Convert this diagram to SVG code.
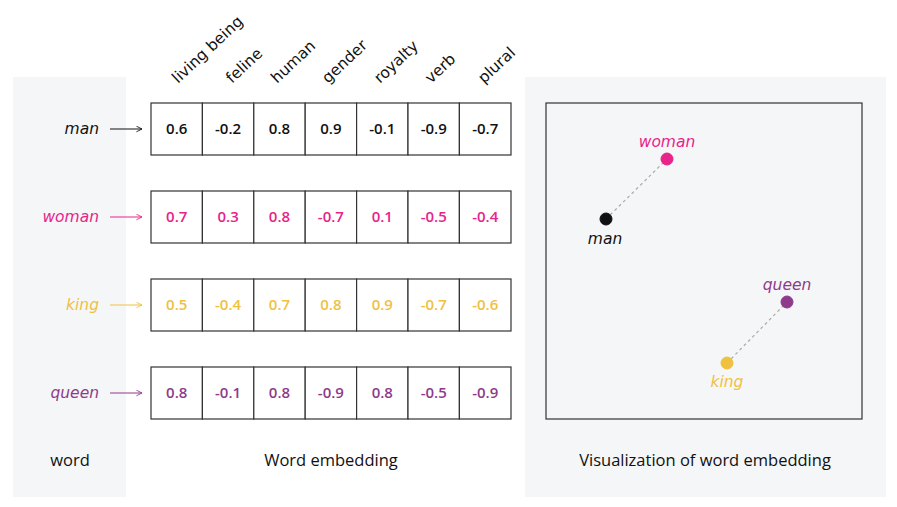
<svg xmlns="http://www.w3.org/2000/svg" width="897" height="507" viewBox="0 0 897 507">
<style>
.panel{fill:#f5f6f8}
.cell{fill:#fff;stroke:#333;stroke-width:1.2}
.num{font-family:"Open Sans",sans-serif;font-size:15px;font-weight:600;text-anchor:middle}
.word{font-family:"DejaVu Sans",sans-serif;font-size:15.5px;font-weight:400;font-style:oblique}
.hdr{font-family:"DejaVu Sans",sans-serif;font-size:15.5px;font-weight:400}
.cap{font-family:"Open Sans",sans-serif;font-size:16.5px;font-weight:500;text-anchor:middle;fill:#111}
.dash{stroke:#aaa;stroke-width:1.2;stroke-dasharray:3 3}
.man{fill:#111;stroke:#111}
.woman{fill:#e8238a;stroke:#e8238a}
.king{fill:#efc13f;stroke:#efc13f}
.queen{fill:#8e3b8b;stroke:#8e3b8b}
</style>
<defs>
<marker id="ah" viewBox="0 0 10 10" refX="9" refY="5" markerWidth="7" markerHeight="7" orient="auto" markerUnits="userSpaceOnUse"><path d="M1,1 L9,5 L1,9" fill="none" stroke="context-stroke" stroke-width="1.2"/></marker>
</defs>
<rect width="897" height="507" fill="#fff"/>
<rect class="panel" x="13" y="77" width="113" height="420"/>
<rect class="panel" x="525" y="77" width="361" height="420"/>
<g id="headers" class="hdr" fill="#111">
<text transform="translate(178,84) rotate(-43)">living being</text>
<text transform="translate(232,84) rotate(-43)">feline</text>
<text transform="translate(277,84) rotate(-43)">human</text>
<text transform="translate(328,84) rotate(-43)">gender</text>
<text transform="translate(380,84) rotate(-43)">royalty</text>
<text transform="translate(431,84) rotate(-43)">verb</text>
<text transform="translate(484,84) rotate(-43)">plural</text>
</g>
<g id="connectors" fill="none" stroke-width="1">
<line class="man" x1="110" y1="129" x2="142" y2="129" marker-end="url(#ah)"/>
<line class="woman" x1="110" y1="217" x2="142" y2="217" marker-end="url(#ah)"/>
<line class="king" x1="110" y1="305" x2="142" y2="305" marker-end="url(#ah)"/>
<line class="queen" x1="110" y1="393" x2="142" y2="393" marker-end="url(#ah)"/>
<line class="dash" x1="606" y1="219" x2="667" y2="159"/>
<line class="dash" x1="727" y1="363" x2="787" y2="302"/>
</g>
<g id="word-man"><text class="word" x="99" y="134" text-anchor="end" fill="#111">man</text></g>
<g id="word-woman"><text class="word" x="99" y="222" text-anchor="end" fill="#e8238a">woman</text></g>
<g id="word-king"><text class="word" x="99" y="310" text-anchor="end" fill="#efc13f">king</text></g>
<g id="word-queen"><text class="word" x="99" y="398" text-anchor="end" fill="#8e3b8b">queen</text></g>
<g id="row-man">
<rect class="cell" x="151" y="103" width="51.4" height="52"/><rect class="cell" x="202.4" y="103" width="51.4" height="52"/><rect class="cell" x="253.8" y="103" width="51.4" height="52"/><rect class="cell" x="305.2" y="103" width="51.4" height="52"/><rect class="cell" x="356.6" y="103" width="51.4" height="52"/><rect class="cell" x="408" y="103" width="51.4" height="52"/><rect class="cell" x="459.4" y="103" width="51.6" height="52"/>
<g class="num" fill="#111"><text x="176.7" y="134">0.6</text><text x="228.1" y="134">-0.2</text><text x="279.5" y="134">0.8</text><text x="330.9" y="134">0.9</text><text x="382.3" y="134">-0.1</text><text x="433.7" y="134">-0.9</text><text x="485.2" y="134">-0.7</text></g>
</g>
<g id="row-woman">
<rect class="cell" x="151" y="191" width="51.4" height="52"/><rect class="cell" x="202.4" y="191" width="51.4" height="52"/><rect class="cell" x="253.8" y="191" width="51.4" height="52"/><rect class="cell" x="305.2" y="191" width="51.4" height="52"/><rect class="cell" x="356.6" y="191" width="51.4" height="52"/><rect class="cell" x="408" y="191" width="51.4" height="52"/><rect class="cell" x="459.4" y="191" width="51.6" height="52"/>
<g class="num" fill="#e8238a"><text x="176.7" y="222">0.7</text><text x="228.1" y="222">0.3</text><text x="279.5" y="222">0.8</text><text x="330.9" y="222">-0.7</text><text x="382.3" y="222">0.1</text><text x="433.7" y="222">-0.5</text><text x="485.2" y="222">-0.4</text></g>
</g>
<g id="row-king">
<rect class="cell" x="151" y="279" width="51.4" height="52"/><rect class="cell" x="202.4" y="279" width="51.4" height="52"/><rect class="cell" x="253.8" y="279" width="51.4" height="52"/><rect class="cell" x="305.2" y="279" width="51.4" height="52"/><rect class="cell" x="356.6" y="279" width="51.4" height="52"/><rect class="cell" x="408" y="279" width="51.4" height="52"/><rect class="cell" x="459.4" y="279" width="51.6" height="52"/>
<g class="num" fill="#efc13f"><text x="176.7" y="310">0.5</text><text x="228.1" y="310">-0.4</text><text x="279.5" y="310">0.7</text><text x="330.9" y="310">0.8</text><text x="382.3" y="310">0.9</text><text x="433.7" y="310">-0.7</text><text x="485.2" y="310">-0.6</text></g>
</g>
<g id="row-queen">
<rect class="cell" x="151" y="367" width="51.4" height="52"/><rect class="cell" x="202.4" y="367" width="51.4" height="52"/><rect class="cell" x="253.8" y="367" width="51.4" height="52"/><rect class="cell" x="305.2" y="367" width="51.4" height="52"/><rect class="cell" x="356.6" y="367" width="51.4" height="52"/><rect class="cell" x="408" y="367" width="51.4" height="52"/><rect class="cell" x="459.4" y="367" width="51.6" height="52"/>
<g class="num" fill="#8e3b8b"><text x="176.7" y="398">0.8</text><text x="228.1" y="398">-0.1</text><text x="279.5" y="398">0.8</text><text x="330.9" y="398">-0.9</text><text x="382.3" y="398">0.8</text><text x="433.7" y="398">-0.5</text><text x="485.2" y="398">-0.9</text></g>
</g>
<g id="plot"><rect x="546" y="103" width="316" height="316" fill="none" stroke="#333" stroke-width="1.2"/></g>
<g id="pt-woman"><circle class="woman" cx="667" cy="159" r="6" stroke="none"/><text class="word" x="667" y="147" text-anchor="middle" fill="#e8238a">woman</text></g>
<g id="pt-man"><circle class="man" cx="606" cy="219" r="6" stroke="none"/><text class="word" x="605" y="244" text-anchor="middle" fill="#111">man</text></g>
<g id="pt-queen"><circle class="queen" cx="787" cy="302" r="6" stroke="none"/><text class="word" x="787" y="290" text-anchor="middle" fill="#8e3b8b">queen</text></g>
<g id="pt-king"><circle class="king" cx="727" cy="363" r="6" stroke="none"/><text class="word" x="727" y="387" text-anchor="middle" fill="#efc13f">king</text></g>
<g id="captions">
<text class="cap" x="70" y="466">word</text>
<text class="cap" x="331" y="466">Word embedding</text>
<text class="cap" x="705" y="466">Visualization of word embedding</text>
</g>
</svg>
